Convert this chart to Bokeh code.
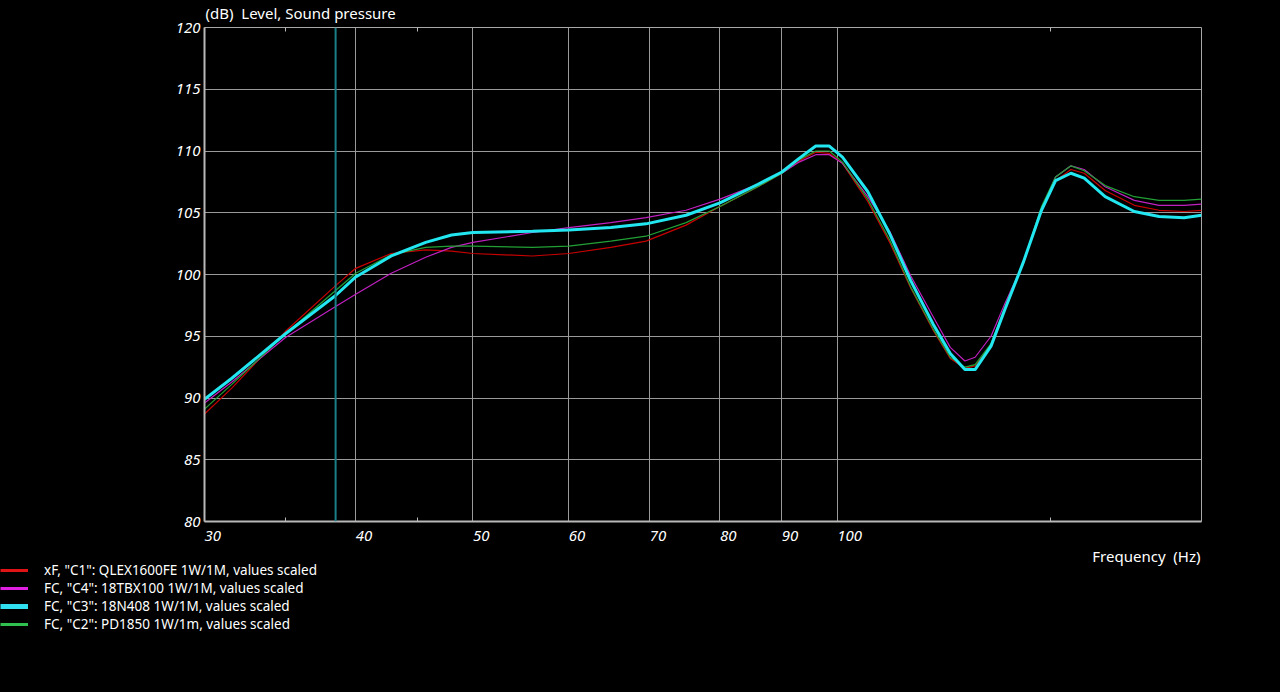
from bokeh.plotting import figure
from bokeh.models import FixedTicker, Span, Legend, LegendItem, Label, Range1d, LogAxis
from bokeh.embed import file_html
from bokeh.resources import INLINE

# ---------------- data ----------------
freq = [30, 31.6, 35, 38.5, 40, 42.8, 45.7, 48, 50, 56, 60, 65, 69.5, 75, 80,
        86, 90, 93, 96, 98.5, 101, 106, 110.5, 115, 120, 124, 127.5, 130, 134,
        137.5, 142.5, 147.5, 151.5, 156, 160, 166.5, 176, 184.5, 193.5, 200]

c1_qlex1600fe = [88.7, 90.8, 95.4, 99.1, 100.5, 101.7, 102.0, 101.9, 101.7, 101.5,
                 101.7, 102.2, 102.7, 104.0, 105.5, 107.1, 108.2, 109.2, 109.9, 109.8,
                 109.0, 105.9, 102.6, 98.9, 95.5, 93.2, 92.4, 92.6, 94.3, 97.2,
                 100.9, 105.3, 107.6, 108.5, 108.2, 106.8, 105.6, 105.2, 105.1, 105.2]

c4_18tbx100 = [89.6, 91.3, 94.9, 97.4, 98.4, 100.1, 101.4, 102.2, 102.6, 103.4,
               103.8, 104.2, 104.6, 105.2, 106.1, 107.3, 108.2, 109.1, 109.7, 109.7,
               109.0, 106.3, 103.5, 99.9, 96.6, 94.1, 93.0, 93.3, 95.0, 97.6,
               100.9, 105.3, 107.9, 108.8, 108.5, 107.1, 106.0, 105.6, 105.6, 105.7]

c3_18n408 = [89.9, 91.6, 95.2, 98.3, 99.8, 101.5, 102.6, 103.2, 103.4, 103.5,
             103.6, 103.8, 104.1, 104.8, 105.8, 107.3, 108.3, 109.4, 110.4, 110.4,
             109.5, 106.7, 103.3, 99.5, 96.0, 93.6, 92.3, 92.3, 94.2, 97.1,
             101.0, 105.2, 107.6, 108.2, 107.8, 106.3, 105.1, 104.7, 104.6, 104.8]

c2_pd1850 = [89.1, 91.1, 95.2, 98.7, 100.1, 101.6, 102.2, 102.3, 102.3, 102.2,
             102.3, 102.7, 103.1, 104.2, 105.5, 107.1, 108.2, 109.3, 110.0, 110.0,
             109.1, 106.1, 102.8, 99.0, 95.6, 93.3, 92.5, 92.7, 94.4, 97.3,
             101.0, 105.5, 107.9, 108.8, 108.4, 107.2, 106.3, 106.0, 106.0, 106.1]

legend_labels = ['xF, "C1": QLEX1600FE 1W/1M, values scaled',
                 'FC, "C4": 18TBX100 1W/1M, values scaled',
                 'FC, "C3": 18N408 1W/1M, values scaled',
                 'FC, "C2": PD1850 1W/1m, values scaled']

x_major_ticks = [30, 40, 50, 60, 70, 80, 90, 100]
x_minor_ticks = [35, 45, 150]
y_ticks = [80, 85, 90, 95, 100, 105, 110, 115, 120]
marker_freq = 38.5

FONT = "Noto Sans"
W = 1280
H_MAIN = 545
H_LEG = 692 - H_MAIN

# ---------------- main chart ----------------
p = figure(frame_width=997, frame_height=494, x_axis_type="log", x_range=(30, 200), y_range=(80, 120),
           output_backend="svg", toolbar_location=None,
           background_fill_color="black", border_fill_color="black",
           min_border_left=204, min_border_right=79, min_border_top=27, min_border_bottom=H_MAIN - 521)
p.outline_line_color = "#a8a8a8"
p.outline_line_width = 1

p.title.text = "(dB)\u00a0 Level, Sound pressure"
p.title.text_color = "white"
p.title.text_font = FONT
p.title.text_font_size = "15px"
p.title.text_font_style = "normal"
p.title.align = "left"
p.title.vertical_align = "top"
p.title.offset = 1
p.title.standoff = 5

p.xaxis.ticker = FixedTicker(ticks=x_major_ticks, minor_ticks=x_minor_ticks)
p.yaxis.ticker = FixedTicker(ticks=y_ticks)
# labels start at their tick (figure spaces pad the centred label on its left)
p.xaxis.major_label_overrides = {t: "\u2007" * len(str(t)) + str(t) for t in x_major_ticks}

for ax in (p.xaxis[0], p.yaxis[0]):
    ax.axis_line_color = "#b8b8b8"
    ax.axis_line_width = 2
    ax.major_tick_line_color = None
    ax.major_tick_in = 0
    ax.major_tick_out = 0
    ax.major_label_text_color = "white"
    ax.major_label_text_font = FONT
    ax.major_label_text_font_style = "italic"
    ax.major_label_text_font_size = "15px"
p.xaxis.minor_tick_in = 4
p.xaxis.minor_tick_out = 0
p.xaxis.minor_tick_line_color = "#b8b8b8"
p.xaxis.major_label_standoff = 3
p.yaxis.minor_tick_line_color = None
p.yaxis.minor_tick_out = 0
p.yaxis.major_label_standoff = 4

# small inward ticks on the top edge (minor ticks only, no labels)
top_axis = LogAxis(ticker=FixedTicker(ticks=[], minor_ticks=x_minor_ticks),
                   axis_line_color=None, major_tick_line_color=None,
                   major_tick_in=0, major_tick_out=0,
                   minor_tick_in=4, minor_tick_out=0, minor_tick_line_color="#b8b8b8",
                   major_label_standoff=0)
p.add_layout(top_axis, "above")

p.xgrid.grid_line_color = "#9a9a9a"
p.ygrid.grid_line_color = "#9a9a9a"

p.add_layout(Span(location=marker_freq, dimension="height", line_color="#1a7f86", line_width=2))

p.line(freq, c1_qlex1600fe, line_color="#c80000", line_width=1.2)
p.line(freq, c4_18tbx100, line_color="#c020c0", line_width=1.2)
p.line(freq, c2_pd1850, line_color="#22a035", line_width=1.2)
p.line(freq, c3_18n408, line_color="#22e6f0", line_width=3)

# ---------------- strip below: axis caption + legend ----------------
q = figure(width=W, height=H_LEG, x_range=Range1d(0, W), y_range=Range1d(0, H_LEG),
           output_backend="svg", toolbar_location=None,
           background_fill_color="black", border_fill_color="black",
           x_axis_location=None, y_axis_location=None,
           min_border_left=0, min_border_right=0, min_border_top=0, min_border_bottom=0)
q.grid.visible = False
q.outline_line_color = None

q.add_layout(Label(x=1200, y=H_LEG - 8, x_units="screen", y_units="screen",
                   text="Frequency\u00a0 (Hz)", text_color="white", text_align="right",
                   text_font=FONT, text_font_size="15px", text_baseline="alphabetic"))

# legend swatches: hidden copies of the curves, drawn only as legend samples
leg_specs = [(c1_qlex1600fe, "#e01414", 3), (c4_18tbx100, "#e020e0", 3),
             (c3_18n408, "#30e0f0", 5), (c2_pd1850, "#30c050", 3)]
leg_r = [q.line(freq, ys, line_color=c, line_width=w, visible=False) for ys, c, w in leg_specs]
legend = Legend(items=[LegendItem(label=t, renderers=[r]) for t, r in zip(legend_labels, leg_r)],
                location=(0, 61), orientation="vertical",
                background_fill_alpha=0, border_line_color=None,
                inactive_fill_alpha=0,
                label_text_color="white", label_text_font=FONT, label_text_font_size="13.5px",
                label_text_line_height=1.0,
                glyph_width=28, glyph_height=14, label_height=14, label_standoff=16,
                spacing=0, padding=0, margin=0)
q.add_layout(legend, "center")

html = file_html([p, q], INLINE)
html = html.replace("<head>", "<head><style>html, body { background: #000; }</style>", 1)
open("out.html", "w").write(html)
